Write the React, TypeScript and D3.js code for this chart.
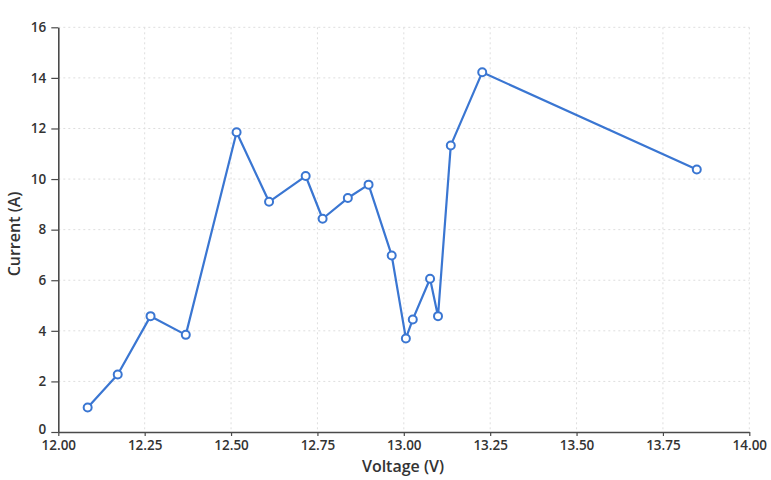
import { useEffect, useRef } from 'react'
import * as d3 from 'd3'

// Voltage (V) / Current (A) readings, in drawing order
const voltage = [12.085, 12.172, 12.267, 12.369, 12.516, 12.61, 12.716, 12.765, 12.838, 12.898, 12.965, 13.006, 13.026, 13.076, 13.099, 13.136, 13.227, 13.848]
const current = [0.97, 2.27, 4.58, 3.84, 11.85, 9.1, 10.12, 8.43, 9.25, 9.78, 6.98, 3.7, 4.45, 6.06, 4.58, 11.33, 14.22, 10.38]

const xTicks = [12, 12.25, 12.5, 12.75, 13, 13.25, 13.5, 13.75, 14]
const yTicks = [0, 2, 4, 6, 8, 10, 12, 14, 16]

const WIDTH = 771
const HEIGHT = 480
const FONT = "'Open Sans', 'DejaVu Sans', sans-serif"
const BLUE = '#3a76d2'
const AXIS = '#4a4a4a'

export default function App() {
  const svgRef = useRef<SVGSVGElement>(null)

  useEffect(() => {
    if (!svgRef.current) return
    const svg = d3.select(svgRef.current)
    svg.selectAll('*').remove()

    const x = d3.scaleLinear().domain([12, 14]).range([58.3, 749.3])
    const y = d3.scaleLinear().domain([0, 16]).range([432, 27.3])

    const pts = voltage.map((v, i) => ({ v, c: current[i] }))

    // grid
    const grid = svg.append('g')
    grid.selectAll('.gx')
      .data(xTicks.slice(1))
      .join('line')
      .attr('x1', d => x(d)).attr('x2', d => x(d))
      .attr('y1', y(16)).attr('y2', y(0))
      .attr('stroke', '#dedede')
      .attr('stroke-width', 1)
      .attr('stroke-dasharray', '2,3')
    grid.selectAll('.gy')
      .data(yTicks.slice(1))
      .join('line')
      .attr('x1', x(12)).attr('x2', x(14))
      .attr('y1', d => y(d)).attr('y2', d => y(d))
      .attr('stroke', '#dedede')
      .attr('stroke-width', 1)
      .attr('stroke-dasharray', '2,3')

    // axes
    const xAxis = svg.append('g')
      .attr('transform', `translate(0,${y(0)})`)
      .call(d3.axisBottom(x).tickValues(xTicks).tickFormat(d3.format('.2f')).tickSize(4).tickSizeOuter(0).tickPadding(4))
    const yAxis = svg.append('g')
      .attr('transform', `translate(${x(12)},0)`)
      .call(d3.axisLeft(y).tickValues(yTicks).tickSize(7).tickSizeOuter(0).tickPadding(5))

    ;[xAxis, yAxis].forEach(a => {
      a.select('.domain').attr('stroke', AXIS).attr('stroke-width', 1.6)
      a.selectAll('.tick line').attr('stroke', AXIS).attr('stroke-width', 1.2)
      a.selectAll('.tick text')
        .attr('fill', '#333')
        .style('font-family', FONT)
        .style('font-size', '13.5px')
        .style('font-weight', '600')
    })
    // lift the "0" label a little so it clears the x tick labels
    yAxis.selectAll<SVGTextElement, number>('.tick text')
      .filter(d => d === 0)
      .attr('y', -3)

    // line + markers
    const line = d3.line<{ v: number; c: number }>()
      .x(d => x(d.v))
      .y(d => y(d.c))
    svg.append('path')
      .datum(pts)
      .attr('d', line)
      .attr('fill', 'none')
      .attr('stroke', BLUE)
      .attr('stroke-width', 2.2)
      .attr('stroke-linejoin', 'round')

    svg.selectAll('.pt')
      .data(pts)
      .join('circle')
      .attr('cx', d => x(d.v))
      .attr('cy', d => y(d.c))
      .attr('r', 4)
      .attr('fill', '#fff')
      .attr('stroke', BLUE)
      .attr('stroke-width', 2)

    // titles
    svg.append('text')
      .attr('x', 403)
      .attr('y', 472)
      .attr('text-anchor', 'middle')
      .attr('fill', '#333')
      .style('font-family', FONT)
      .style('font-size', '16px')
      .style('font-weight', '600')
      .text('Voltage (V)')

    svg.append('text')
      .attr('transform', 'translate(20,234) rotate(-90)')
      .attr('text-anchor', 'middle')
      .attr('fill', '#333')
      .style('font-family', FONT)
      .style('font-size', '16px')
      .style('font-weight', '600')
      .text('Current (A)')
  }, [])

  return (
    <svg
      ref={svgRef}
      width={WIDTH}
      height={HEIGHT}
      style={{ position: 'absolute', left: 0, top: 0, background: '#fff' }}
    />
  )
}
